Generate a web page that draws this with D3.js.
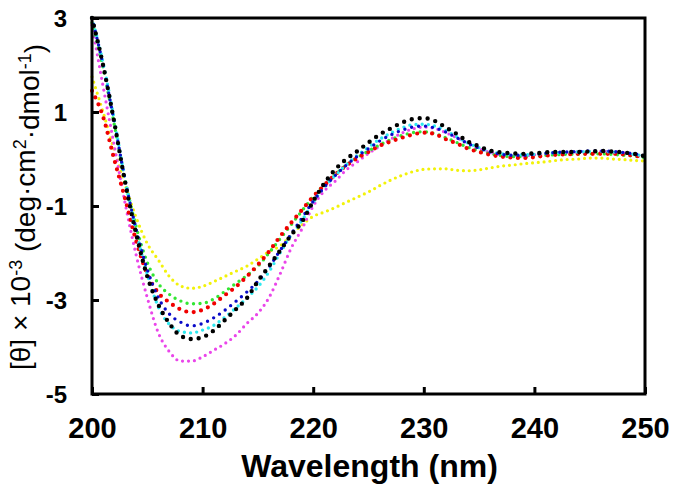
<!DOCTYPE html>
<html>
<head>
<meta charset="utf-8">
<script src="https://cdn.jsdelivr.net/npm/d3@7/dist/d3.min.js"></script>
<style>
html,body{margin:0;padding:0;background:#fff;}
svg{display:block;}
text{font-family:"Liberation Sans",Arial,sans-serif;}
</style>
</head>
<body>
<svg id="chart" width="675" height="492"></svg>
<script>
// Wavelength grid (nm), 1 nm steps
const wavelengths = d3.range(200, 251, 1);

// Mean residue ellipticity x 10^-3
const seriesBlack   = [3.0,2.0,0.8,-0.5,-1.6,-2.5,-3.1,-3.5,-3.76,-3.83,-3.79,-3.65,-3.43,-3.2,-2.96,-2.6,-2.28,-1.95,-1.62,-1.33,-0.9,-0.52,-0.22,0.0,0.17,0.35,0.52,0.65,0.77,0.85,0.87,0.81,0.67,0.53,0.37,0.27,0.18,0.14,0.12,0.11,0.12,0.14,0.15,0.15,0.15,0.16,0.17,0.16,0.14,0.11,0.06];
const seriesCyan    = [3.0,2.05,0.85,-0.45,-1.55,-2.45,-3.15,-3.52,-3.67,-3.7,-3.64,-3.54,-3.37,-3.17,-2.96,-2.72,-2.4,-2.0,-1.62,-1.3,-0.92,-0.6,-0.35,-0.12,0.08,0.25,0.42,0.55,0.66,0.73,0.74,0.7,0.6,0.47,0.34,0.24,0.16,0.11,0.09,0.09,0.1,0.12,0.13,0.14,0.15,0.16,0.16,0.15,0.13,0.1,0.06];
const seriesBlue    = [3.0,2.0,0.8,-0.45,-1.5,-2.35,-2.95,-3.3,-3.47,-3.55,-3.5,-3.38,-3.22,-3.03,-2.83,-2.6,-2.3,-1.95,-1.6,-1.25,-0.9,-0.6,-0.35,-0.13,0.06,0.22,0.38,0.51,0.61,0.68,0.7,0.66,0.57,0.45,0.33,0.23,0.15,0.1,0.08,0.08,0.1,0.12,0.14,0.15,0.16,0.17,0.17,0.16,0.14,0.11,0.07];
const seriesRed     = [1.45,0.9,0.0,-0.85,-1.75,-2.45,-2.85,-3.05,-3.2,-3.26,-3.21,-3.08,-2.9,-2.72,-2.5,-2.25,-1.97,-1.65,-1.36,-1.08,-0.8,-0.56,-0.33,-0.14,0.02,0.15,0.28,0.37,0.45,0.52,0.56,0.53,0.42,0.33,0.22,0.15,0.09,0.05,0.03,0.02,0.04,0.07,0.09,0.1,0.11,0.11,0.11,0.11,0.1,0.07,0.04];
const seriesGreen   = [2.9,1.95,0.75,-0.45,-1.45,-2.2,-2.65,-2.88,-3.02,-3.08,-3.07,-2.98,-2.82,-2.65,-2.48,-2.28,-2.0,-1.7,-1.4,-1.1,-0.8,-0.55,-0.33,-0.13,0.03,0.17,0.3,0.41,0.5,0.56,0.58,0.54,0.45,0.35,0.25,0.17,0.11,0.07,0.05,0.05,0.06,0.08,0.09,0.1,0.1,0.11,0.11,0.1,0.08,0.06,0.03];
const seriesYellow  = [1.75,1.0,0.2,-0.55,-1.25,-1.8,-2.15,-2.5,-2.7,-2.75,-2.71,-2.61,-2.5,-2.39,-2.28,-2.13,-1.97,-1.85,-1.62,-1.4,-1.22,-1.13,-1.03,-0.92,-0.81,-0.7,-0.57,-0.45,-0.35,-0.27,-0.22,-0.21,-0.21,-0.24,-0.25,-0.23,-0.19,-0.15,-0.13,-0.1,-0.08,-0.06,-0.03,-0.01,0.0,0.02,0.02,0.0,-0.01,-0.03,-0.04];
const seriesMagenta = [2.85,1.55,0.3,-0.95,-2.05,-2.95,-3.7,-4.1,-4.3,-4.3,-4.21,-4.07,-3.93,-3.75,-3.5,-3.28,-2.95,-2.45,-1.9,-1.48,-1.0,-0.68,-0.47,-0.23,-0.06,0.12,0.27,0.42,0.55,0.64,0.68,0.65,0.56,0.45,0.33,0.22,0.14,0.09,0.07,0.07,0.09,0.11,0.13,0.14,0.15,0.16,0.16,0.15,0.13,0.1,0.07];

const xTicks = [200, 210, 220, 230, 240, 250];
const yTicks = [3, 1, -1, -3, -5];

const seriesList = [
  {name: "yellow",  values: seriesYellow,  color: "#f2f20a", w: 3.2, gap: 5.8},
  {name: "magenta", values: seriesMagenta, color: "#ea45ea", w: 3.2, gap: 6.0},
  {name: "green",   values: seriesGreen,   color: "#33e633", w: 3.4, gap: 6.5},
  {name: "red",     values: seriesRed,     color: "#f00000", w: 4.2, gap: 7.5},
  {name: "cyan",    values: seriesCyan,    color: "#2ee8f0", w: 3.4, gap: 6.2},
  {name: "blue",    values: seriesBlue,    color: "#0a0ac8", w: 3.4, gap: 7.0},
  {name: "black",   values: seriesBlack,   color: "#000000", w: 4.4, gap: 8.0}
];

const svg = d3.select("#chart");
const L = 92, R = 645, T = 18, B = 394;

const x = d3.scaleLinear().domain([200, 250]).range([L, R]);
const y = d3.scaleLinear().domain([-5, 3]).range([B, T]);

const line = d3.line()
  .x((d, i) => x(wavelengths[i]))
  .y(d => y(d))
  .curve(d3.curveMonotoneX);

const plot = svg.append("g");
seriesList.forEach(s => {
  plot.append("path")
    .datum(s.values)
    .attr("d", line)
    .attr("fill", "none")
    .attr("stroke", s.color)
    .attr("stroke-width", s.w)
    .attr("stroke-linecap", "round")
    .attr("stroke-dasharray", `0 ${s.gap}`);
});

// Frame
svg.append("rect")
  .attr("x", L).attr("y", T)
  .attr("width", R - L).attr("height", B - T)
  .attr("fill", "none").attr("stroke", "#000").attr("stroke-width", 3);

const fmt = d => String(d);

// Axes with inward ticks
const xAxis = d3.axisBottom(x).tickValues(xTicks).tickSize(-7).tickPadding(0).tickFormat(fmt);
const gx = svg.append("g").attr("transform", `translate(0,${B})`).call(xAxis);
gx.select(".domain").remove();
gx.selectAll(".tick line").attr("stroke", "#000").attr("stroke-width", 3);
gx.selectAll(".tick text")
  .attr("y", 44).attr("dy", null)
  .attr("fill", "#000")
  .style("font-family", '"Liberation Sans",Arial,sans-serif')
  .style("font-size", "29px").style("font-weight", "bold");

const yAxis = d3.axisLeft(y).tickValues(yTicks).tickSize(-7).tickPadding(0).tickFormat(fmt);
const gy = svg.append("g").attr("transform", `translate(${L},0)`).call(yAxis);
gy.select(".domain").remove();
gy.selectAll(".tick line").attr("stroke", "#000").attr("stroke-width", 3);
gy.selectAll(".tick text")
  .attr("x", -25).attr("dy", "0.36em")
  .attr("fill", "#000")
  .style("font-family", '"Liberation Sans",Arial,sans-serif')
  .style("font-size", "24px").style("font-weight", "bold");

// X title
svg.append("text")
  .attr("x", (L + R) / 2 + 1).attr("y", 477)
  .attr("text-anchor", "middle")
  .style("font-size", "32px").style("font-weight", "bold")
  .text("Wavelength (nm)");

// Y title
const yt = svg.append("text")
  .attr("transform", `translate(30,207) rotate(-90)`)
  .attr("text-anchor", "middle")
  .style("font-size", "28px");
yt.append("tspan").text("[θ] × 10");
yt.append("tspan").attr("dy", "-0.45em").style("font-size", "18px").text("-3");
yt.append("tspan").attr("dy", "0.45em").text(" (deg·cm");
yt.append("tspan").attr("dy", "-0.45em").style("font-size", "18px").text("2");
yt.append("tspan").attr("dy", "0.45em").text("·dmol");
yt.append("tspan").attr("dy", "-0.45em").style("font-size", "18px").text("-1");
yt.append("tspan").attr("dy", "0.45em").text(")");
</script>
</body>
</html>
